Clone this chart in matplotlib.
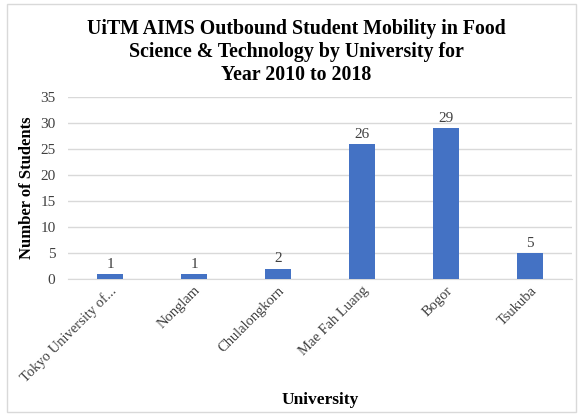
import matplotlib.pyplot as plt
from matplotlib.patches import Rectangle

# data
universities = ['Tokyo University of...', 'Nonglam', 'Chulalongkorn',
                'Mae Fah Luang', 'Bogor', 'Tsukuba']
students = [1, 1, 2, 26, 29, 5]

plt.rcParams['font.family'] = ['Liberation Serif', 'DejaVu Serif']

fig = plt.figure(figsize=(5.78, 4.16), dpi=100)
ax = fig.add_axes([68 / 578, 1 - 279 / 416, (572 - 68) / 578, (279 - 97) / 416])

x = range(len(universities))
bars = ax.bar(x, students, width=0.32, color='#4472C4', zorder=3)
for xi, v in zip(x, students):
    ax.text(xi, v + 0.6, str(v), ha='center', va='bottom', fontsize=11, color='#404040')

ax.set_xlim(-0.5, len(universities) - 0.5)
ax.set_ylim(0, 35)
ax.set_yticks(range(0, 36, 5))
ax.grid(axis='y', color='#D9D9D9', linewidth=1, zorder=0)
for s in ['top', 'right', 'left']:
    ax.spines[s].set_visible(False)
ax.spines['bottom'].set_color('#D9D9D9')
ax.tick_params(length=0, labelsize=10.5, colors='#404040')
ax.tick_params(axis='y', pad=9, labelsize=11)
ax.set_xticks(list(x))
ax.set_xticklabels(universities, rotation=45, ha='right', rotation_mode='anchor')

ax.set_ylabel('Number of Students', fontsize=12, fontweight='bold')
ax.yaxis.set_label_coords(-0.066, 0.5)
fig.text(320 / 578, 1 - 400 / 416, 'University', ha='center', va='center',
         fontsize=12.5, fontweight='bold')
fig.text(296 / 578, 1 - 52 / 416,
         'UiTM AIMS Outbound Student Mobility in Food\n'
         'Science & Technology by University for\nYear 2010 to 2018',
         ha='center', va='center', fontsize=14.3, fontweight='bold',
         linespacing=1.2)

fig.patches.append(Rectangle((7 / 578, 4 / 416), 569 / 578, 408 / 416,
                             transform=fig.transFigure, fill=False,
                             edgecolor='#D9D9D9', linewidth=1))

fig.savefig('out.png', dpi=100)
